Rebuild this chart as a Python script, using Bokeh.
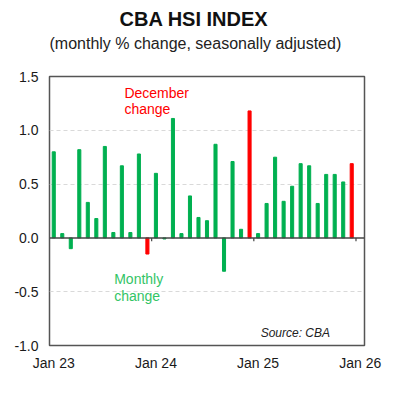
from bokeh.plotting import figure
from bokeh.models import ColumnDataSource, FixedTicker, Span, Label, Range1d, Title
from bokeh.embed import file_html
from bokeh.resources import INLINE

# Monthly % change, Jan 2023 .. Dec 2025
months = ["Jan 23", "Feb 23", "Mar 23", "Apr 23", "May 23", "Jun 23", "Jul 23", "Aug 23",
          "Sep 23", "Oct 23", "Nov 23", "Dec 23",
          "Jan 24", "Feb 24", "Mar 24", "Apr 24", "May 24", "Jun 24", "Jul 24", "Aug 24",
          "Sep 24", "Oct 24", "Nov 24", "Dec 24",
          "Jan 25", "Feb 25", "Mar 25", "Apr 25", "May 25", "Jun 25", "Jul 25", "Aug 25",
          "Sep 25", "Oct 25", "Nov 25", "Dec 25"]
values = [0.80, 0.04, -0.10, 0.82, 0.33, 0.18, 0.85, 0.05, 0.67, 0.05, 0.78, -0.15,
          0.60, -0.01, 1.11, 0.04, 0.39, 0.19, 0.16, 0.87, -0.31, 0.71, 0.08, 1.18,
          0.04, 0.32, 0.75, 0.34, 0.48, 0.69, 0.67, 0.32, 0.59, 0.59, 0.52, 0.69]
x_tick_labels = ["Jan 23", "Jan 24", "Jan 25", "Jan 26"]
y_ticks = [-1.0, -0.5, 0.0, 0.5, 1.0, 1.5]

GREEN = "#00B050"
RED = "#FF0000"

xs = [i + 0.5 for i in range(len(months))]
colors = [RED if m.startswith("Dec") else GREEN for m in months]
src = ColumnDataSource(dict(x=xs, top=values, color=colors, month=months))

p = figure(width=392, height=392, output_backend="svg", toolbar_location=None,
           x_range=Range1d(0, 37), y_range=Range1d(-1.0, 1.5),
           min_border_left=49, min_border_right=28, min_border_top=76, min_border_bottom=47)
p.title.text = ""
p.title.visible = False
p.background_fill_color = "white"
p.border_fill_color = "white"
p.outline_line_color = "#555555"
p.outline_line_width = 1.5

p.vbar(x="x", top="top", bottom=0, width=0.36, color="color", source=src)

zero = Span(location=0, dimension="width", line_color="#444444", line_width=1.5)
p.add_layout(zero)

# small tick marks on the zero line at year boundaries
tick_pos = [12 * k for k in range(1, len(x_tick_labels))]
p.segment(x0=tick_pos, x1=tick_pos, y0=[0] * len(tick_pos), y1=[-0.03] * len(tick_pos),
          line_color="#444444", line_width=1.2)

# axes
p.xaxis.ticker = FixedTicker(ticks=[12 * k + 0.5 for k in range(len(x_tick_labels))])
p.xaxis.major_label_overrides = {12 * k + 0.5: lab for k, lab in enumerate(x_tick_labels)}
p.yaxis.ticker = FixedTicker(ticks=y_ticks)
p.yaxis.major_label_overrides = {v: f"{v:.1f}" for v in y_ticks}
for ax in (p.xaxis[0], p.yaxis[0]):
    ax.axis_line_color = None
    ax.major_tick_line_color = None
    ax.minor_tick_line_color = None
    ax.major_tick_out = 0
    ax.major_tick_in = 0
    ax.major_label_text_font = "Liberation Sans"
    ax.major_label_text_font_size = "14px"
    ax.major_label_text_color = "#1a1a1a"
p.xaxis.major_label_standoff = 9
p.yaxis.major_label_standoff = 11

p.xgrid.grid_line_color = None
p.ygrid.ticker = FixedTicker(ticks=[-0.5, 0.5, 1.0])
p.ygrid.grid_line_color = "#d9d9d9"
p.ygrid.grid_line_dash = "4 3"
p.ygrid.grid_line_width = 1

# titles (added closest-to-frame first); a blank spacer keeps the gap above the frame
p.add_layout(Title(text=" ", text_font_size="10px", standoff=12), "above")
p.add_layout(Title(text="(monthly % change, seasonally adjusted)", align="left",
                   text_font="Liberation Sans", text_font_size="16px",
                   text_font_style="normal", text_color="#222222",
                   standoff=0, offset=0), "above")
p.add_layout(Title(text="CBA HSI INDEX", align="left", text_font="Liberation Sans",
                   text_font_style="bold", text_font_size="20px", text_color="#111111",
                   standoff=5, offset=70), "above")

# annotations
p.add_layout(Label(x=8.8, y=1.42, text="December\nchange", text_font="Liberation Sans",
                   text_font_size="14px", text_color=RED, text_align="left",
                   text_baseline="top", text_line_height=1.02))
p.add_layout(Label(x=7.6, y=-0.31, text="Monthly\nchange", text_font="Liberation Sans",
                   text_font_size="14px", text_color="#33C466", text_align="left",
                   text_baseline="top", text_line_height=1.02))
p.add_layout(Label(x=24.8, y=-0.88, text="Source: CBA", text_font="Liberation Sans",
                   text_font_size="12px", text_font_style="italic", text_color="#222222",
                   text_align="left", text_baseline="middle"))

open("out.html", "w").write(file_html(p, INLINE))
